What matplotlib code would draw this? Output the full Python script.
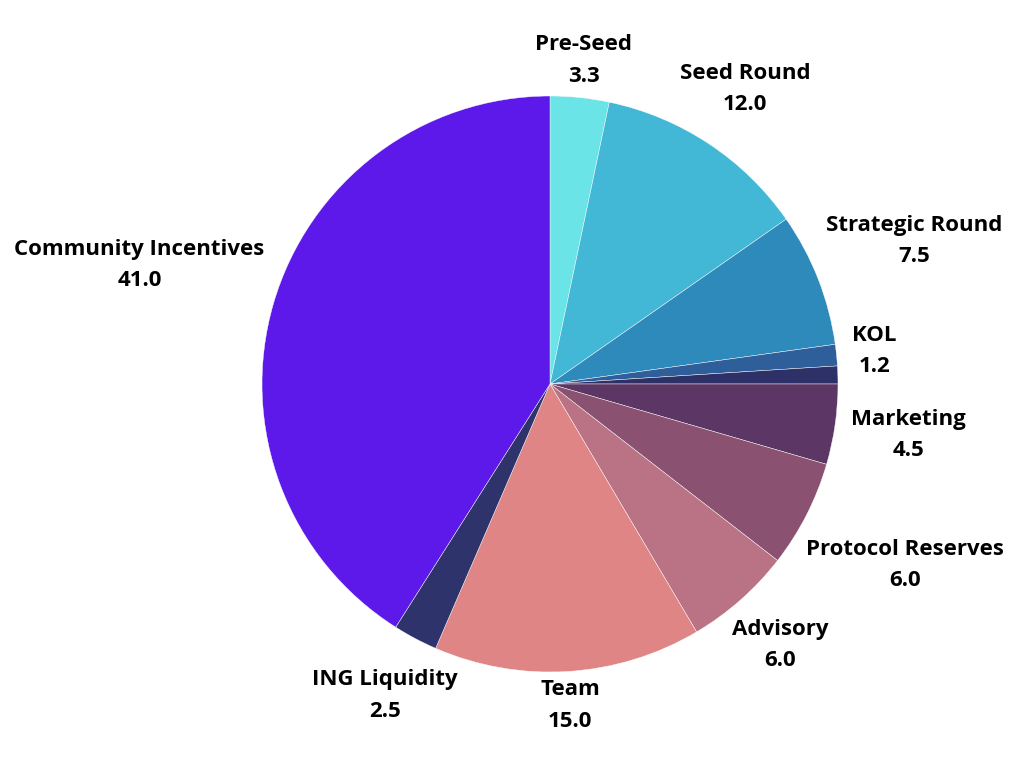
import numpy as np
import matplotlib.pyplot as plt

plt.rcParams['font.family'] = ['Open Sans', 'DejaVu Sans']

# token allocation (%), clockwise from 12 o'clock
labels = ['Pre-Seed', 'Seed Round', 'Strategic Round', 'KOL', '', 'Marketing',
          'Protocol Reserves', 'Advisory', 'Team', 'ING Liquidity', 'Community Incentives']
values = [3.3, 12.0, 7.5, 1.2, 1.0, 4.5, 6.0, 6.0, 15.0, 2.5, 41.0]
colors = ['#6ae4e6', '#42b8d6', '#2e8aba', '#2f5f9a', '#2e3068', '#5c3765',
          '#8a5270', '#b97385', '#e08585', '#2f336b', '#5d18ea']

W, H = 1024, 768
fig = plt.figure(figsize=(W / 100, H / 100), dpi=100)
ax = fig.add_axes([0, 0, 1, 1])

cx, cy, R = 550, 384, 288
wedges, _ = ax.pie(values, colors=colors, startangle=90, counterclock=False,
                   center=(cx, cy), radius=R, frame=True,
                   wedgeprops=dict(edgecolor='white', linewidth=0.3))
ax.set_xlim(0, W)
ax.set_ylim(0, H)
ax.set_aspect('equal')
ax.axis('off')

fig.canvas.draw()
renderer = fig.canvas.get_renderer()
for w, lab, v in zip(wedges, labels, values):
    if not lab:
        continue
    ang = np.deg2rad((w.theta1 + w.theta2) / 2)
    t = ax.text(0, 0, f'{lab}\n{v:.1f}', ha='center', va='center',
                fontsize=16, fontweight='bold', color='black', linespacing=1.65)
    bb = t.get_window_extent(renderer)
    # push label out until its box clears the pie edge
    r = R * 1.05 + abs(np.cos(ang)) * bb.width / 2 + abs(np.sin(ang)) * 18
    t.set_position((cx + r * np.cos(ang), cy + r * np.sin(ang)))

fig.savefig('out.png', dpi=100)
